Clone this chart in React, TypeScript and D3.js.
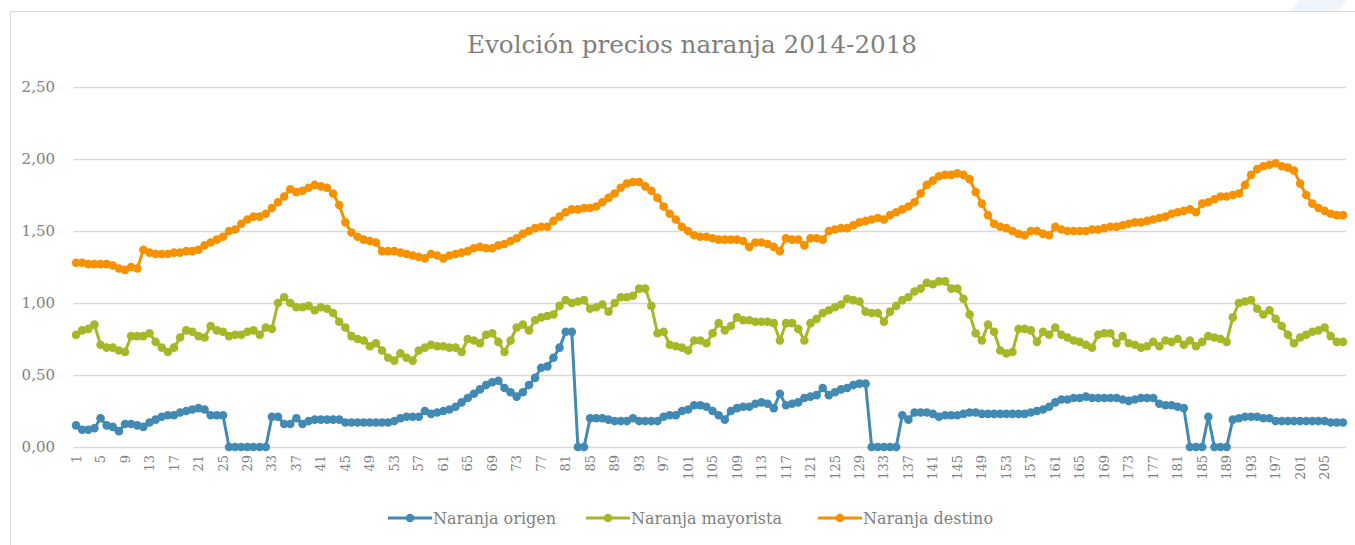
import React, { useEffect, useRef } from "react";
import * as d3 from "d3";

// Precios semanales (índice de semana 1..208)
const origen = [
  0.15, 0.12, 0.12, 0.13, 0.20, 0.15, 0.14, 0.11, 0.16, 0.16,
  0.15, 0.14, 0.17, 0.19, 0.21, 0.22, 0.22, 0.24, 0.25, 0.26,
  0.27, 0.26, 0.22, 0.22, 0.22, 0, 0, 0, 0, 0,
  0, 0, 0.21, 0.21, 0.16, 0.16, 0.20, 0.16, 0.18, 0.19,
  0.19, 0.19, 0.19, 0.19, 0.17, 0.17, 0.17, 0.17, 0.17, 0.17,
  0.17, 0.17, 0.18, 0.20, 0.21, 0.21, 0.21, 0.25, 0.23, 0.24,
  0.25, 0.26, 0.28, 0.31, 0.34, 0.37, 0.40, 0.43, 0.45, 0.46,
  0.41, 0.38, 0.35, 0.38, 0.43, 0.48, 0.55, 0.56, 0.62, 0.69,
  0.80, 0.80, 0, 0, 0.20, 0.20, 0.20, 0.19, 0.18, 0.18,
  0.18, 0.20, 0.18, 0.18, 0.18, 0.18, 0.21, 0.22, 0.22, 0.25,
  0.26, 0.29, 0.29, 0.28, 0.25, 0.22, 0.19, 0.25, 0.27, 0.28,
  0.28, 0.30, 0.31, 0.30, 0.27, 0.37, 0.29, 0.30, 0.31, 0.34,
  0.35, 0.36, 0.41, 0.36, 0.38, 0.40, 0.41, 0.43, 0.44, 0.44,
  0, 0, 0, 0, 0, 0.22, 0.19, 0.24, 0.24, 0.24,
  0.23, 0.21, 0.22, 0.22, 0.22, 0.23, 0.24, 0.24, 0.23, 0.23,
  0.23, 0.23, 0.23, 0.23, 0.23, 0.23, 0.24, 0.25, 0.26, 0.28,
  0.31, 0.33, 0.33, 0.34, 0.34, 0.35, 0.34, 0.34, 0.34, 0.34,
  0.34, 0.33, 0.32, 0.33, 0.34, 0.34, 0.34, 0.30, 0.29, 0.29,
  0.28, 0.27, 0, 0, 0, 0.21, 0, 0, 0, 0.19,
  0.20, 0.21, 0.21, 0.21, 0.20, 0.20, 0.18, 0.18, 0.18, 0.18,
  0.18, 0.18, 0.18, 0.18, 0.18, 0.17, 0.17, 0.17,
];

const mayorista = [
  0.78, 0.81, 0.82, 0.85, 0.71, 0.69, 0.69, 0.67, 0.66, 0.77,
  0.77, 0.77, 0.79, 0.73, 0.69, 0.66, 0.69, 0.76, 0.81, 0.80,
  0.77, 0.76, 0.84, 0.81, 0.80, 0.77, 0.78, 0.78, 0.80, 0.81,
  0.78, 0.83, 0.82, 1.00, 1.04, 1.00, 0.97, 0.97, 0.98, 0.95,
  0.97, 0.96, 0.93, 0.87, 0.83, 0.77, 0.75, 0.74, 0.70, 0.72,
  0.67, 0.62, 0.60, 0.65, 0.62, 0.60, 0.67, 0.69, 0.71, 0.70,
  0.70, 0.69, 0.69, 0.66, 0.75, 0.74, 0.72, 0.78, 0.79, 0.73,
  0.66, 0.74, 0.83, 0.85, 0.81, 0.88, 0.90, 0.91, 0.92, 0.98,
  1.02, 1.00, 1.01, 1.02, 0.96, 0.97, 0.99, 0.94, 1.00, 1.04,
  1.04, 1.05, 1.10, 1.10, 0.98, 0.79, 0.80, 0.71, 0.70, 0.69,
  0.67, 0.74, 0.74, 0.72, 0.79, 0.86, 0.81, 0.84, 0.90, 0.88,
  0.88, 0.87, 0.87, 0.87, 0.86, 0.74, 0.86, 0.86, 0.82, 0.74,
  0.86, 0.89, 0.93, 0.95, 0.97, 0.99, 1.03, 1.02, 1.01, 0.94,
  0.93, 0.93, 0.87, 0.94, 0.98, 1.02, 1.04, 1.08, 1.10, 1.14,
  1.13, 1.15, 1.15, 1.10, 1.10, 1.03, 0.92, 0.79, 0.74, 0.85,
  0.80, 0.67, 0.65, 0.66, 0.82, 0.82, 0.81, 0.73, 0.80, 0.78,
  0.83, 0.78, 0.76, 0.74, 0.73, 0.71, 0.69, 0.78, 0.79, 0.79,
  0.72, 0.77, 0.72, 0.71, 0.69, 0.70, 0.73, 0.70, 0.74, 0.73,
  0.75, 0.71, 0.74, 0.70, 0.73, 0.77, 0.76, 0.75, 0.73, 0.90,
  1.00, 1.01, 1.02, 0.96, 0.92, 0.95, 0.89, 0.84, 0.78, 0.72,
  0.76, 0.78, 0.80, 0.81, 0.83, 0.77, 0.73, 0.73,
];

const destino = [
  1.28, 1.28, 1.27, 1.27, 1.27, 1.27, 1.26, 1.24, 1.23, 1.25,
  1.24, 1.37, 1.35, 1.34, 1.34, 1.34, 1.35, 1.35, 1.36, 1.36,
  1.37, 1.40, 1.42, 1.44, 1.46, 1.50, 1.51, 1.55, 1.58, 1.60,
  1.60, 1.62, 1.66, 1.70, 1.74, 1.79, 1.77, 1.78, 1.80, 1.82,
  1.81, 1.80, 1.76, 1.68, 1.56, 1.49, 1.46, 1.44, 1.43, 1.42,
  1.36, 1.36, 1.36, 1.35, 1.34, 1.33, 1.32, 1.31, 1.34, 1.33,
  1.31, 1.33, 1.34, 1.35, 1.36, 1.38, 1.39, 1.38, 1.38, 1.40,
  1.41, 1.43, 1.45, 1.48, 1.50, 1.52, 1.53, 1.53, 1.57, 1.60,
  1.63, 1.65, 1.65, 1.66, 1.66, 1.67, 1.70, 1.73, 1.76, 1.80,
  1.83, 1.84, 1.84, 1.81, 1.78, 1.73, 1.67, 1.62, 1.58, 1.53,
  1.50, 1.47, 1.46, 1.46, 1.45, 1.44, 1.44, 1.44, 1.44, 1.43,
  1.39, 1.42, 1.42, 1.41, 1.39, 1.36, 1.45, 1.44, 1.44, 1.40,
  1.45, 1.45, 1.44, 1.50, 1.51, 1.52, 1.52, 1.54, 1.56, 1.57,
  1.58, 1.59, 1.58, 1.61, 1.63, 1.65, 1.67, 1.70, 1.76, 1.82,
  1.85, 1.88, 1.89, 1.89, 1.90, 1.89, 1.86, 1.77, 1.69, 1.61,
  1.55, 1.53, 1.52, 1.50, 1.48, 1.47, 1.50, 1.50, 1.48, 1.47,
  1.53, 1.51, 1.50, 1.50, 1.50, 1.50, 1.51, 1.51, 1.52, 1.53,
  1.53, 1.54, 1.55, 1.56, 1.56, 1.57, 1.58, 1.59, 1.60, 1.62,
  1.63, 1.64, 1.65, 1.63, 1.69, 1.70, 1.72, 1.74, 1.74, 1.75,
  1.76, 1.82, 1.89, 1.93, 1.95, 1.96, 1.97, 1.95, 1.94, 1.92,
  1.83, 1.75, 1.69, 1.66, 1.64, 1.62, 1.61, 1.61,
];

const semanas = origen.map((_, i) => String(i + 1));
const yTicks = [0, 0.5, 1, 1.5, 2, 2.5];

const series = [
  { name: "Naranja origen", values: origen, color: "#418AB3" },
  { name: "Naranja mayorista", values: mayorista, color: "#A6B727" },
  { name: "Naranja destino", values: destino, color: "#F69200" },
];

const W = 1355, H = 545;
const FONT = "DejaVu Serif";

export default function App() {
  const ref = useRef<SVGSVGElement>(null);

  useEffect(() => {
    const svg = d3.select(ref.current);
    svg.selectAll("*").remove();

    const margin = { top: 87, left: 73, right: 9, bottom: 98 };

    const x = d3.scaleBand().domain(semanas).range([margin.left, W - margin.right]);
    const y = d3.scaleLinear().domain([0, 2.5]).range([H - margin.bottom, margin.top]);
    const cx = (i: number) => (x(semanas[i]) as number) + x.bandwidth() / 2;

    // background + frame
    svg.append("rect").attr("width", W).attr("height", H).attr("fill", "#fff");
    svg.append("polygon")
      .attr("points", "1300,0 1348,0 1338,11 1290,11")
      .attr("fill", "#eef4f9");
    svg.append("rect")
      .attr("x", 10.5).attr("y", 11.5).attr("width", W).attr("height", H)
      .attr("fill", "none").attr("stroke", "#d9d9d9");

    // title
    svg.append("text")
      .attr("x", 692).attr("y", 53)
      .attr("text-anchor", "middle")
      .style("font-family", FONT).attr("font-size", 24)
      .attr("textLength", 450).attr("lengthAdjust", "spacingAndGlyphs")
      .attr("fill", "#7f7f7f")
      .text("Evolción precios naranja 2014-2018");

    // grid + y labels
    const g = svg.append("g");
    yTicks.forEach((t) => {
      g.append("line")
        .attr("x1", margin.left).attr("x2", W - margin.right)
        .attr("y1", Math.round(y(t)) + 0.5).attr("y2", Math.round(y(t)) + 0.5)
        .attr("stroke", "#d9d9d9").attr("stroke-width", 1.3);
      g.append("text")
        .attr("x", 55).attr("y", y(t)).attr("dy", "0.35em")
        .attr("text-anchor", "end")
        .style("font-family", FONT).attr("font-size", 15)
        .attr("fill", "#7f7f7f")
        .text(d3.format(".2f")(t).replace(".", ","));
    });

    // x labels, every 4th
    semanas.forEach((s, i) => {
      if (i % 4 !== 0) return;
      g.append("text")
        .attr("transform", `translate(${cx(i)},${H - margin.bottom + 8}) rotate(-90)`)
        .attr("dy", "0.35em")
        .attr("text-anchor", "end")
        .style("font-family", FONT).attr("font-size", 13)
        .attr("fill", "#7f7f7f")
        .text(s);
    });

    // series
    const line = d3.line<number>().x((_, i) => cx(i)).y((d) => y(d));
    series.forEach((s) => {
      const sg = svg.append("g");
      sg.append("path")
        .attr("d", line(s.values))
        .attr("fill", "none")
        .attr("stroke", s.color)
        .attr("stroke-width", 3)
        .attr("stroke-linejoin", "round");
      sg.selectAll("circle")
        .data(s.values)
        .join("circle")
        .attr("cx", (_, i) => cx(i))
        .attr("cy", (d) => y(d))
        .attr("r", 4.3)
        .attr("fill", s.color);
    });

    // legend
    const legendX = [388, 586, 818];
    series.forEach((s, i) => {
      const lg = svg.append("g").attr("transform", `translate(${legendX[i]},518)`);
      lg.append("line").attr("x1", 0).attr("x2", 44).attr("y1", 0).attr("y2", 0)
        .attr("stroke", s.color).attr("stroke-width", 3);
      lg.append("circle").attr("cx", 22).attr("cy", 0).attr("r", 4.3).attr("fill", s.color);
      lg.append("text")
        .attr("x", 45).attr("y", 0).attr("dy", "0.35em")
        .style("font-family", FONT).attr("font-size", 16)
        .attr("fill", "#7f7f7f")
        .text(s.name);
    });
  }, []);

  return (
    <svg
      ref={ref}
      width={W}
      height={H}
      style={{ position: "absolute", left: 0, top: 0, display: "block" }}
    />
  );
}
